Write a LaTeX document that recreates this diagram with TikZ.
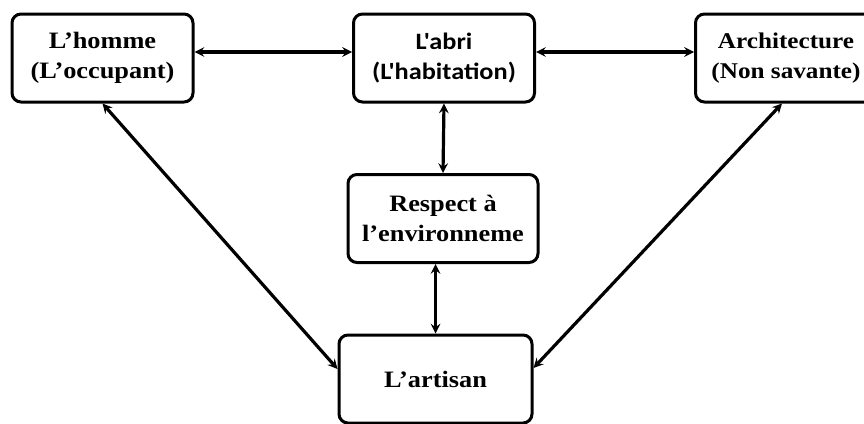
\documentclass[tikz,border=0pt]{standalone}
\usepackage{fontspec}
\setmainfont[FakeStretch=1.12]{Liberation Serif}
\newfontfamily\abrifont[FakeStretch=1.12]{Carlito}
\begin{document}
\begin{tikzpicture}
[x=1pt, y=-1pt,
 nodes={draw=black, line width=3pt, fill=white, rounded corners=9pt, align=center,
        minimum width=181pt, minimum height=88pt, inner sep=0pt,
        font=\fontsize{23.5}{30}\selectfont\bfseries},
 link/.style={<->, >=stealth, line width=3.2pt}]
\clip (0,0) rectangle (864,423);
\node (homme) at (102.5,58) {L'homme\\(L'occupant)};
\node (abri) at (444,58) [font=\fontsize{23.5}{30}\selectfont\abrifont\bfseries] {L'abri\\(L'habitation)};
\node (archi) at (786,58) [font=\fontsize{22.5}{30}\selectfont\bfseries] {Architecture\\(Non savante)};
\node (respect) at (443,218.5) [minimum width=190pt] {Respect à\\l'environneme};
\node (artisan) at (435.5,379) [minimum width=193pt] {L'artisan};
\draw [link] ([yshift=6pt]homme.east) -- ([yshift=6pt]abri.west);
\draw [link] ([yshift=6pt]abri.east) -- ([yshift=6pt]archi.west);
\draw [link] (abri.south) -- (respect.north);
\draw [link] (respect.south -| artisan.north) -- (artisan.north);
\draw [link] (homme.south) -- ([yshift=10pt]artisan.west);
\draw [link] ([xshift=-4pt]archi.south) -- ([yshift=11pt]artisan.east);
\end{tikzpicture}
\end{document}
